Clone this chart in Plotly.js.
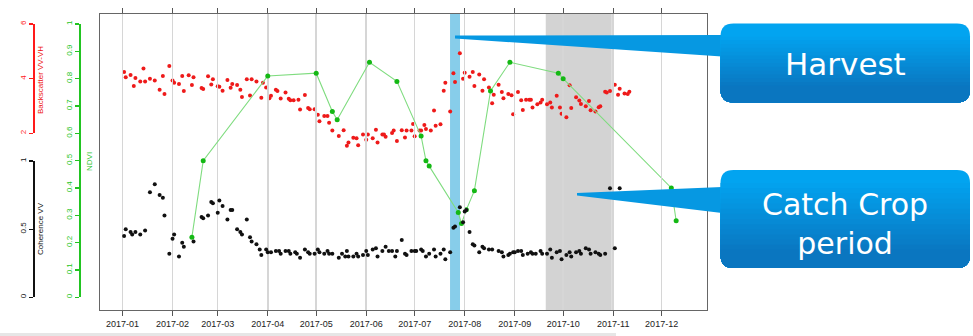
<!DOCTYPE html>
<html>
<head>
<meta charset="utf-8">
<script src="https://cdn.plot.ly/plotly-3.0.1.min.js"></script>
<style>html,body{margin:0;padding:0;background:#fff;}#chart{width:973px;height:336px;}</style>
</head>
<body>
<div id="chart"></div>
<script>
// ---------------- DATA (days since 2017-01-01) ----------------
const bsDay = [1,2,5,7,8,11,13,14,17,20,23,25,26,29,31,32,35,37,38,41,43,44,49,50,53,55,56,59,60,62,
  65,67,68,71,73,74,77,79,80,83,86,87,89,91,92,95,96,98,101,103,104,106,109,110,113,115,116,119,121,122,
  125,127,128,130,134,137,139,140,143,145,146,149,151,152,155,157,158,161,162,163,167,168,170,173,175,176,179,180,181,184,
  185,187,188,191,193,194,197,199,200,203,205,206,209,211,212,215,217,218,221,223,224,227,229,230,233,235,236,239,241,242,
  245,247,248,250,252,253,254,257,259,260,263,265,266,269,271,272,275,277,278,281,283,284,287,289,290,293,295,296,299,300,
  302,305,307,308,311,313,314];
const bsVal = [4.24,4.05,4.13,3.73,4.02,3.90,4.37,3.90,4.00,3.93,3.59,4.10,3.44,4.46,3.93,3.85,3.80,4.10,3.55,4.12,3.77,4.05,3.66,3.62,4.09,3.79,3.98,3.72,3.70,3.56,
  3.95,3.67,3.80,3.77,3.59,3.33,3.98,3.38,3.98,3.90,3.30,3.85,3.68,3.28,3.37,3.59,3.55,3.27,3.49,3.26,3.21,3.21,3.23,2.87,3.40,2.93,2.88,2.88,2.68,2.44,
  2.63,2.63,2.39,2.10,1.90,2.11,1.54,1.66,1.84,1.82,1.56,1.96,1.76,1.96,1.82,2.13,1.66,1.96,1.96,1.87,2.01,2.10,1.72,2.11,1.85,2.10,2.10,2.34,1.89,2.10,
  2.10,2.30,2.16,2.10,2.83,2.28,2.33,3.56,3.85,2.80,4.20,3.88,4.93,4.00,4.22,4.07,4.24,3.73,4.15,3.56,3.98,3.68,3.10,3.41,3.78,3.51,3.28,3.44,3.39,2.70,
  3.51,3.21,2.85,3.23,3.23,3.23,2.94,3.06,3.13,3.23,3.06,3.13,2.94,3.37,2.94,2.72,2.59,3.76,2.93,3.32,3.20,3.07,2.99,3.18,2.84,2.80,2.95,2.99,3.52,3.49,
  3.55,3.78,3.41,3.63,3.46,3.44,3.52];

const cohDay = [1,2,5,6,8,11,14,17,20,23,25,26,29,31,32,35,37,38,44,49,50,53,55,56,59,60,62,65,67,68,
  71,73,74,77,79,80,83,85,86,89,90,92,95,97,98,101,103,104,107,108,110,113,115,116,119,121,122,125,127,128,
  130,134,136,138,139,140,143,145,146,149,151,152,155,157,158,161,163,165,167,169,170,173,175,176,179,181,182,185,186,188,
  190,193,194,197,199,200,203,205,206,209,211,212,213,215,217,218,221,223,224,227,229,233,235,236,239,240,242,243,245,247,
  248,251,253,254,256,259,260,263,265,266,269,271,272,275,277,278,281,283,284,287,289,290,293,295,296,299,302,305,308];
const cohVal = [0.45,0.50,0.48,0.46,0.48,0.46,0.49,0.77,0.83,0.75,0.73,0.60,0.32,0.43,0.46,0.30,0.40,0.37,0.41,0.59,0.58,0.60,0.70,0.69,0.62,0.71,0.67,0.57,0.64,0.64,
  0.50,0.48,0.46,0.57,0.44,0.41,0.39,0.35,0.31,0.35,0.33,0.33,0.34,0.34,0.32,0.34,0.34,0.32,0.33,0.32,0.29,0.35,0.33,0.32,0.32,0.35,0.33,0.32,0.34,0.32,
  0.32,0.29,0.32,0.30,0.34,0.30,0.30,0.32,0.30,0.31,0.34,0.31,0.35,0.36,0.30,0.34,0.37,0.34,0.34,0.30,0.34,0.42,0.32,0.31,0.34,0.34,0.34,0.35,0.34,0.30,
  0.32,0.35,0.30,0.32,0.35,0.28,0.33,0.51,0.52,0.66,0.55,0.63,0.64,0.48,0.39,0.38,0.33,0.37,0.36,0.35,0.35,0.34,0.33,0.30,0.31,0.32,0.33,0.33,0.34,0.34,
  0.31,0.32,0.33,0.32,0.32,0.34,0.32,0.32,0.35,0.29,0.33,0.34,0.28,0.31,0.33,0.30,0.33,0.34,0.32,0.36,0.35,0.32,0.33,0.32,0.31,0.32,0.80,0.36,0.80];

const ndviDay = [43,50,90,120,130,133,153,170,185,188,190,208,210,213,218,228,240,270,273,340,343];
const ndviVal = [0.22,0.50,0.81,0.82,0.68,0.65,0.86,0.79,0.59,0.50,0.48,0.31,0.27,0.32,0.39,0.755,0.86,0.82,0.80,0.40,0.28];

const monthTicks = ['2017-01-01','2017-02-01','2017-03-01','2017-04-01','2017-05-01','2017-06-01',
  '2017-07-01','2017-08-01','2017-09-01','2017-10-01','2017-11-01','2017-12-01'];
const monthLabels = ['2017-01','2017-02','2017-03','2017-04','2017-05','2017-06',
  '2017-07','2017-08','2017-09','2017-10','2017-11','2017-12'];

const harvestPeriod = ['2017-07-22 22:00','2017-07-29 02:00'];
const catchCropPeriod = ['2017-09-20 05:00','2017-10-31 02:00'];

// ---------------- helpers ----------------
const W = 973, H = 336;
const px = x => x / W;
const py = y => (H - y) / H;
const toDate = d => new Date(Date.UTC(2017,0,1) + d*86400000).toISOString().slice(0,10);
const bsAt = y => 2 + (133.3 - y) * 4 / (133.3 - 24);

function pt(x,y){ return px(x).toFixed(5)+','+py(y).toFixed(5); }
function roundRect(x0,y0,x1,y1,r,squareTop){
  let p;
  if(squareTop){
    p = 'M'+pt(x0,y0)+' L'+pt(x1,y0);
  } else {
    p = 'M'+pt(x0+r,y0)+' L'+pt(x1-r,y0)+' Q'+pt(x1,y0)+' '+pt(x1,y0+r);
  }
  p += ' L'+pt(x1,y1-r)+' Q'+pt(x1,y1)+' '+pt(x1-r,y1)+' L'+pt(x0+r,y1)+' Q'+pt(x0,y1)+' '+pt(x0,y1-r);
  if(squareTop){ p += ' Z'; }
  else { p += ' L'+pt(x0,y0+r)+' Q'+pt(x0,y0)+' '+pt(x0+r,y0)+' Z'; }
  return p;
}
function mix(c1,c2,t){
  const r = Math.round(c1[0]+(c2[0]-c1[0])*t), g = Math.round(c1[1]+(c2[1]-c1[1])*t), b = Math.round(c1[2]+(c2[2]-c1[2])*t);
  return 'rgb('+r+','+g+','+b+')';
}
function callout(x0,y0,x1,y1,r){
  const top=[2,164,240], bot=[10,118,192];
  const out = [{type:'path', xref:'paper', yref:'paper', path:roundRect(x0,y0,x1,y1,r,false), fillcolor:mix(top,bot,0), line:{width:0}, layer:'above'}];
  const N = 14, ys = y0 + r, ye = y1 - r;
  for(let k=1;k<=N;k++){
    const yk = ys + (ye-ys)*(k-1)/N;
    out.push({type:'path', xref:'paper', yref:'paper', path:roundRect(x0,yk,x1,y1,r,true), fillcolor:mix(top,bot,k/N), line:{width:0}, layer:'above'});
  }
  return out;
}
function poly(pts,color){
  return {type:'path', xref:'paper', yref:'paper', layer:'above', fillcolor:color, line:{width:0},
    path:'M'+pts.map(p=>pt(p[0],p[1])).join(' L')+' Z'};
}

// ---------------- traces ----------------
const traces = [
  {type:'scatter', mode:'markers', x:bsDay.map(toDate), y:bsVal, xaxis:'x', yaxis:'y',
   marker:{color:'#ee1a1a', size:4}, hoverinfo:'skip'},
  {type:'scatter', mode:'markers', x:cohDay.map(toDate), y:cohVal, xaxis:'x', yaxis:'y4',
   marker:{color:'#111111', size:4}, hoverinfo:'skip'},
  {type:'scatter', mode:'lines+markers', x:ndviDay.map(toDate), y:ndviVal, xaxis:'x', yaxis:'y3',
   line:{color:'#7fdc7f', width:1.1}, marker:{color:'#14b814', size:5}, hoverinfo:'skip'},
  // empty trace so the Backscatter scale axis (y2) gets a subplot and is drawn
  {type:'scatter', mode:'markers', x:[null], y:[null], xaxis:'x', yaxis:'y2', hoverinfo:'skip'}
];

const axFont = 'Liberation Sans, Arial, sans-serif';
const sideAxis = (dom, range, pos, color, extra) => Object.assign({
  domain:dom, range:range, anchor:'free', position:pos, side:'left',
  showline:true, linecolor:color, linewidth:1.4, ticks:'outside', ticklen:4, tickcolor:color, tickwidth:1.2,
  tickangle:-90, tickfont:{family:axFont, size:8, color:color}, showgrid:false, zeroline:false, fixedrange:true
}, extra);

const shapes = [
  {type:'rect', xref:'x', yref:'paper', x0:harvestPeriod[0], x1:harvestPeriod[1], y0:py(310), y1:py(14),
   fillcolor:'#87cdea', line:{width:0}, layer:'below'},
  {type:'rect', xref:'x', yref:'paper', x0:catchCropPeriod[0], x1:catchCropPeriod[1], y0:py(310), y1:py(14),
   fillcolor:'#d3d3d3', line:{width:0}, layer:'below'},
  {type:'rect', xref:'paper', yref:'paper', x0:0, x1:px(616), y0:0, y1:py(333), fillcolor:'#e6e6e6', line:{width:0}, layer:'below'},
  poly([[455,35.5],[722,35],[722,56.5],[455,38.5]], '#0698e2'),
  poly([[577,193],[722,187],[722,213],[577,195.5]], '#0698e2')
].concat(callout(720.5,23.5,970,102.5,13), callout(720.5,170,970,268,13));

const annotations = [
  {xref:'paper', yref:'paper', x:px(845), y:py(64), text:'Harvest', showarrow:false, xanchor:'center', yanchor:'middle',
   font:{family:'DejaVu Sans, Verdana, sans-serif', size:31, color:'#ffffff'}},
  {xref:'paper', yref:'paper', x:px(845), y:py(224), text:'Catch Crop<br>period', showarrow:false, xanchor:'center', yanchor:'middle',
   font:{family:'DejaVu Sans, Verdana, sans-serif', size:30, color:'#ffffff'}},
  {xref:'paper', yref:'paper', x:px(40), y:py(80), text:'Backscatter VV-VH', textangle:-90, showarrow:false,
   xanchor:'center', yanchor:'middle', font:{family:axFont, size:8, color:'#ee1111'}},
  {xref:'paper', yref:'paper', x:px(40), y:py(229), text:'Coherence VV', textangle:-90, showarrow:false,
   xanchor:'center', yanchor:'middle', font:{family:axFont, size:8, color:'#111111'}},
  {xref:'paper', yref:'paper', x:px(90), y:py(162), text:'NDVI', textangle:-90, showarrow:false,
   xanchor:'center', yanchor:'middle', font:{family:axFont, size:8, color:'#2ec42e'}}
];

const layout = {
  width:W, height:H, margin:{l:0,r:0,t:0,b:0}, paper_bgcolor:'#ffffff', plot_bgcolor:'rgba(0,0,0,0)',
  showlegend:false, font:{family:axFont, size:9, color:'#222'},
  xaxis:{domain:[px(100),px(707)], type:'date', range:['2016-12-18 01:30','2017-12-29 02:30'], anchor:'y',
    tickvals:monthTicks, ticktext:monthLabels, ticks:'outside', ticklen:5, tickcolor:'#555', tickwidth:1,
    showline:true, linecolor:'#666', linewidth:1, mirror:'ticks', showgrid:true, gridcolor:'#d6d6d6', gridwidth:1.5,
    zeroline:false, tickfont:{family:axFont, size:9, color:'#222'}, fixedrange:true},
  yaxis:{domain:[py(310),py(14)], range:[bsAt(310), bsAt(14)], anchor:'x', showline:true, mirror:true,
    linecolor:'#666', linewidth:1, showgrid:false, zeroline:false, showticklabels:false, ticks:'', fixedrange:true},
  yaxis2: sideAxis([py(133.3),py(24)], [2,6], px(33.3), '#ff1a1a', {tickvals:[2,4,6]}),
  yaxis3: sideAxis([py(297.3),py(24)], [0,1], px(79.3), '#22c422', {tick0:0, dtick:0.1}),
  yaxis4: sideAxis([py(297.3),py(161)], [0,1], px(33.3), '#111111', {tickvals:[0,0.5,1]}),
  shapes:shapes, annotations:annotations
};

Plotly.newPlot('chart', traces, layout, {staticPlot:true, displayModeBar:false});
</script>
</body>
</html>
